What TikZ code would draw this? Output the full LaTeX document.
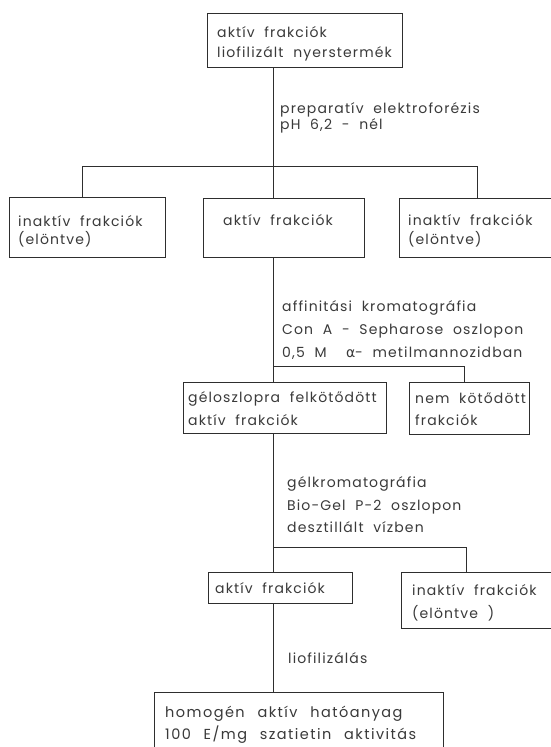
\documentclass[tikz,border=0pt]{standalone}
\usepackage{fontspec}
\setmainfont{Poppins}[LetterSpace=8, WordSpace=2]
\newfontfamily\grk{DejaVu Sans}
\newfontfamily\widefont{Poppins}[LetterSpace=10, WordSpace=2.4]
\definecolor{linec}{HTML}{2E2E2E}
\definecolor{textc}{HTML}{3A3A3A}
\begin{document}
\begin{tikzpicture}[x=1pt,y=-1pt,
  box/.style={draw=linec, line width=1.2pt, rectangle, inner sep=0pt, anchor=north west},
  conn/.style={draw=linec, line width=0.9pt},
  txt/.style={anchor=base west, inner sep=0pt, text=textc, font=\fontsize{14}{16}\selectfont},
  bigtxt/.style={txt, font=\widefont\fontsize{14.5}{16}\selectfont}]
\useasboundingbox (0,0) rectangle (551,747);
\fill[white] (0,0) rectangle (551,747);
% boxes
\node[box, minimum width=195pt, minimum height=54pt] (top) at (207,13) {};
\node[box, minimum width=156pt, minimum height=60pt] (L1) at (9,197) {};
\node[box, minimum width=161pt, minimum height=59pt] (M1) at (203,198) {};
\node[box, minimum width=152pt, minimum height=59pt] (R1) at (399,198) {};
\node[box, minimum width=203pt, minimum height=51pt] (G) at (183,382) {};
\node[box, minimum width=120pt, minimum height=52pt] (N) at (409,382) {};
\node[box, minimum width=144pt, minimum height=31pt] (A3) at (208,572) {};
\node[box, minimum width=150pt, minimum height=56pt] (R3) at (401,572) {};
\node[box, minimum width=289pt, minimum height=55pt] (H) at (154,692) {};
% box texts
\node[txt] (t1) at (217,37) {aktív frakciók};
\node[txt] (t2) at (217,57) {liofilizált nyerstermék};
\node[txt] (l1a) at (18,226) {inaktív frakciók};
\node[txt] (l1b) at (18,244) {(elöntve)};
\node[txt] (m1a) at (223,225) {aktív frakciók};
\node[txt] (r1a) at (408,225) {inaktív frakciók};
\node[txt] (r1b) at (408,244) {(elöntve)};
\node[txt] (ga) at (188,402) {géloszlopra felkötődött};
\node[txt] (gb) at (188,425) {aktív frakciók};
\node[txt] (na) at (415,403) {nem kötődött};
\node[txt] (nb) at (415,425) {frakciók};
\node[txt] (a3a) at (215,593) {aktív frakciók};
\node[txt] (r3a) at (412,595) {inaktív frakciók};
\node[txt] (r3b) at (412,618) {(elöntve )};
\node[bigtxt] (ha) at (165,717) {homogén aktív hatóanyag};
\node[bigtxt] (hb) at (165,739) {100 E/mg szatietin aktivitás};
% step labels
\node[txt] (s1a) at (280,113) {preparatív elektroforézis};
\node[txt] (s1b) at (280,129) {pH 6,2 - nél};
\node[txt] (s2a) at (282,311) {affinitási kromatográfia};
\node[txt] (s2b) at (282,334) {Con A - Sepharose oszlopon};
\node[txt] (s2c) at (282,357) {0,5 M \ {\grk α}- metilmannozidban};
\node[txt] (s3a) at (287,487) {gélkromatográfia};
\node[txt] (s3b) at (287,510) {Bio-Gel P-2 oszlopon};
\node[txt] (s3c) at (287,532) {desztillált vízben};
\node[txt] (s4a) at (288,663) {liofilizálás};
% junctions
\coordinate (j1) at (273.5,166);
\coordinate (j1l) at (82,166);
\coordinate (j1r) at (477,166);
\coordinate (j2) at (273.5,366);
\coordinate (j2r) at (464,366);
\coordinate (j3) at (273.5,547);
\coordinate (j3r) at (466.5,547);
% connectors
\draw[conn] (j1 |- top.south) -- (j1);
\draw[conn] (j1l |- L1.north) -- (j1l) -- (j1r) -- (j1r |- R1.north);
\draw[conn] (j1) -- (j1 |- M1.north);
\draw[conn] (j2 |- M1.south) -- (j2) -- (j2r) -- (j2r |- N.north);
\draw[conn] (j2) -- (j2 |- G.north);
\draw[conn] (j3 |- G.south) -- (j3) -- (j3r) -- (j3r |- R3.north);
\draw[conn] (j3) -- (j3 |- A3.north);
\draw[conn] (j3 |- A3.south) -- (j3 |- H.north);
\end{tikzpicture}
\end{document}
